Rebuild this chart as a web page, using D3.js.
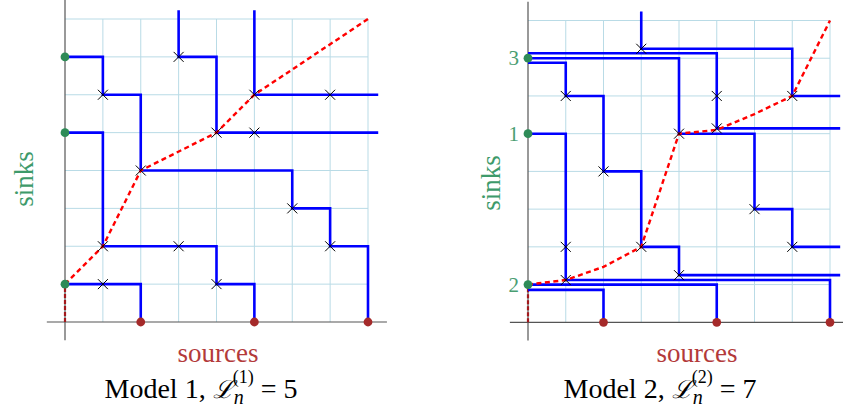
<!DOCTYPE html>
<html>
<head>
<meta charset="utf-8">
<script src="https://cdn.jsdelivr.net/npm/d3@7"></script>
<style>
  body { margin: 0; background: #fff; }
  text { font-family: "Liberation Serif", "DejaVu Serif", serif; }
</style>
</head>
<body>
<div id="chart"></div>
<script>
// ---- data (grid units, 8x8 lattice) ----
var sinks1 = [1, 5, 7];
var sources1 = [2, 5, 8];
var crosses1 = [[1,1],[4,1],[1,2],[3,2],[7,2],[6,3],[2,4],[4,5],[5,5],[1,6],[5,6],[7,6],[3,7]];
var paths1 = [
  [[0,7],[1,7],[1,6],[2,6],[2,4],[6,4],[6,3],[7,3],[7,2],[8,2],[8,0]],
  [[0,5],[1,5],[1,2],[4,2],[4,1],[5,1],[5,0]],
  [[0,1],[2,1],[2,0]],
  [[3,8.23],[3,7],[4,7],[4,5],[8.27,5]],
  [[5,8.23],[5,6],[8.27,6]]
];
var red1 = [[0,1],[1,2],[2,4],[4,5],[5,6],[8,8]];

var sinks2 = [1, 5, 7];
var sinkLabels2 = ["2", "1", "3"];
var sources2 = [2, 5, 8];
var crosses2 = [[1,1.12],[4,1.25],[1,2],[3,2],[7,2],[6,3],[2,4],[4,5],[5,5.14],[1,6],[5,6],[7,6],[3,7.25]];
var paths2 = [
  [[3,8.24],[3,7.25],[7,7.25],[7,6],[8.27,6]],
  [[0,7.13],[5,7.13],[5,5.14],[8.27,5.14]],
  [[0,7],[4,7],[4,5],[6,5],[6,3],[7,3],[7,2],[8.27,2]],
  [[0,6.88],[1,6.88],[1,6],[2,6],[2,4],[3,4],[3,2],[4,2],[4,1.25],[8.27,1.25]],
  [[0,5],[1,5],[1,1.12],[8,1.12],[8,0]],
  [[0,1],[5,1],[5,0]],
  [[0,0.86],[2,0.86],[2,0]]
];
var red2 = [[0,1],[1,1.12],[2,1.47],[3,2],[4,5],[5,5.1],[6,5.52],[7,6],[8,8]];

var titles = ["1", "2"];
var values = ["5", "7"];

var W = 843, H = 409;
var svg = d3.select("#chart").append("svg").attr("width", W).attr("height", H);

var panels = [
  {sinks: sinks1, labels: null, sources: sources1, crosses: crosses1, paths: paths1, red: red1,
   xr: [65, 368], yr: [322, 19], title: titles[0], value: values[0],
   srcX: 218, sinkX: 33, sinkY: 179, capX: 201},
  {sinks: sinks2, labels: sinkLabels2, sources: sources2, crosses: crosses2, paths: paths2, red: red2,
   xr: [528, 830], yr: [322.3, 20.5], title: titles[1], value: values[1],
   srcX: 697, sinkX: 500, sinkY: 183, capX: 660}
];

panels.forEach(function (p) {
  var x = d3.scaleLinear().domain([0, 8]).range(p.xr);
  var y = d3.scaleLinear().domain([0, 8]).range(p.yr);
  var g = svg.append("g");

  // grid
  g.selectAll(".gv").data(d3.range(1, 9)).enter().append("line")
    .attr("x1", function (d) { return x(d); }).attr("x2", function (d) { return x(d); })
    .attr("y1", y(0)).attr("y2", y(8))
    .attr("stroke", "#b9dbe6").attr("stroke-width", 1);
  g.selectAll(".gh").data(d3.range(1, 9)).enter().append("line")
    .attr("y1", function (d) { return y(d); }).attr("y2", function (d) { return y(d); })
    .attr("x1", x(0)).attr("x2", x(8))
    .attr("stroke", "#b9dbe6").attr("stroke-width", 1);

  // axes
  g.append("line").attr("x1", x(0)).attr("x2", x(0)).attr("y1", y(8.5)).attr("y2", y(-0.48))
    .attr("stroke", "#555").attr("stroke-width", 1.2);
  g.append("line").attr("x1", x(-0.48)).attr("x2", x(8.5)).attr("y1", y(0)).attr("y2", y(0))
    .attr("stroke", "#555").attr("stroke-width", 1.2);

  // red dashed
  g.append("line").attr("x1", x(0)).attr("x2", x(0)).attr("y1", y(0)).attr("y2", y(1))
    .attr("stroke", "#a3191c").attr("stroke-width", 2.2).attr("stroke-dasharray", "4,2");

  var line = d3.line().x(function (d) { return x(d[0]); }).y(function (d) { return y(d[1]); });

  // blue paths
  g.selectAll(".bp").data(p.paths).enter().append("path")
    .attr("d", line)
    .attr("fill", "none").attr("stroke", "#0000ff").attr("stroke-width", 2.6);

  g.append("path").datum(p.red)
    .attr("d", line)
    .attr("fill", "none").attr("stroke", "#ff0000").attr("stroke-width", 2.4)
    .attr("stroke-dasharray", "5,3.5");

  // crosses
  var cr = g.selectAll(".cr").data(p.crosses).enter().append("g")
    .attr("transform", function (d) { return "translate(" + x(d[0]) + "," + y(d[1]) + ")"; });
  cr.append("line").attr("x1", -5).attr("y1", -5).attr("x2", 5).attr("y2", 5)
    .attr("stroke", "#000").attr("stroke-width", 1);
  cr.append("line").attr("x1", -5).attr("y1", 5).attr("x2", 5).attr("y2", -5)
    .attr("stroke", "#000").attr("stroke-width", 1);

  // sinks and sources
  g.selectAll(".sk").data(p.sinks).enter().append("circle")
    .attr("cx", x(0)).attr("cy", function (d) { return y(d); }).attr("r", 4.4)
    .attr("fill", "#2e8b57");
  g.selectAll(".sr").data(p.sources).enter().append("circle")
    .attr("cx", function (d) { return x(d); }).attr("cy", y(0)).attr("r", 4.4)
    .attr("fill", "#a52a2a");

  if (p.labels) {
    g.selectAll(".sl").data(p.sinks).enter().append("text")
      .attr("x", x(0) - 9).attr("y", function (d) { return y(d) + 7; })
      .attr("text-anchor", "end").attr("font-size", 21).attr("fill", "#4a9e72")
      .text(function (d, i) { return p.labels[i]; });
  }

  // axis labels
  g.append("text").attr("x", p.srcX).attr("y", 362)
    .attr("text-anchor", "middle").attr("font-size", 27).attr("fill", "#b33a3a")
    .text("sources");
  g.append("text")
    .attr("transform", "translate(" + p.sinkX + "," + p.sinkY + ") rotate(-90)")
    .attr("text-anchor", "middle").attr("font-size", 27).attr("fill", "#3e9a6a")
    .text("sinks");

  // caption
  var t = g.append("text").attr("x", p.capX).attr("y", 398)
    .attr("text-anchor", "middle").attr("font-size", 28).attr("fill", "#000");
  t.append("tspan").text("Model " + p.title + ", ");
  t.append("tspan").attr("font-style", "italic").attr("font-family", "DejaVu Serif").attr("font-size", 25).text("\u2112");
  t.append("tspan").attr("font-style", "italic").attr("font-size", 20).attr("dy", 6).text("n");
  t.append("tspan").attr("font-size", 18).attr("dx", -11).attr("dy", -21).text("(" + p.title + ")");
  t.append("tspan").attr("dy", 15).text(" = " + p.value);
});
</script>
</body>
</html>
